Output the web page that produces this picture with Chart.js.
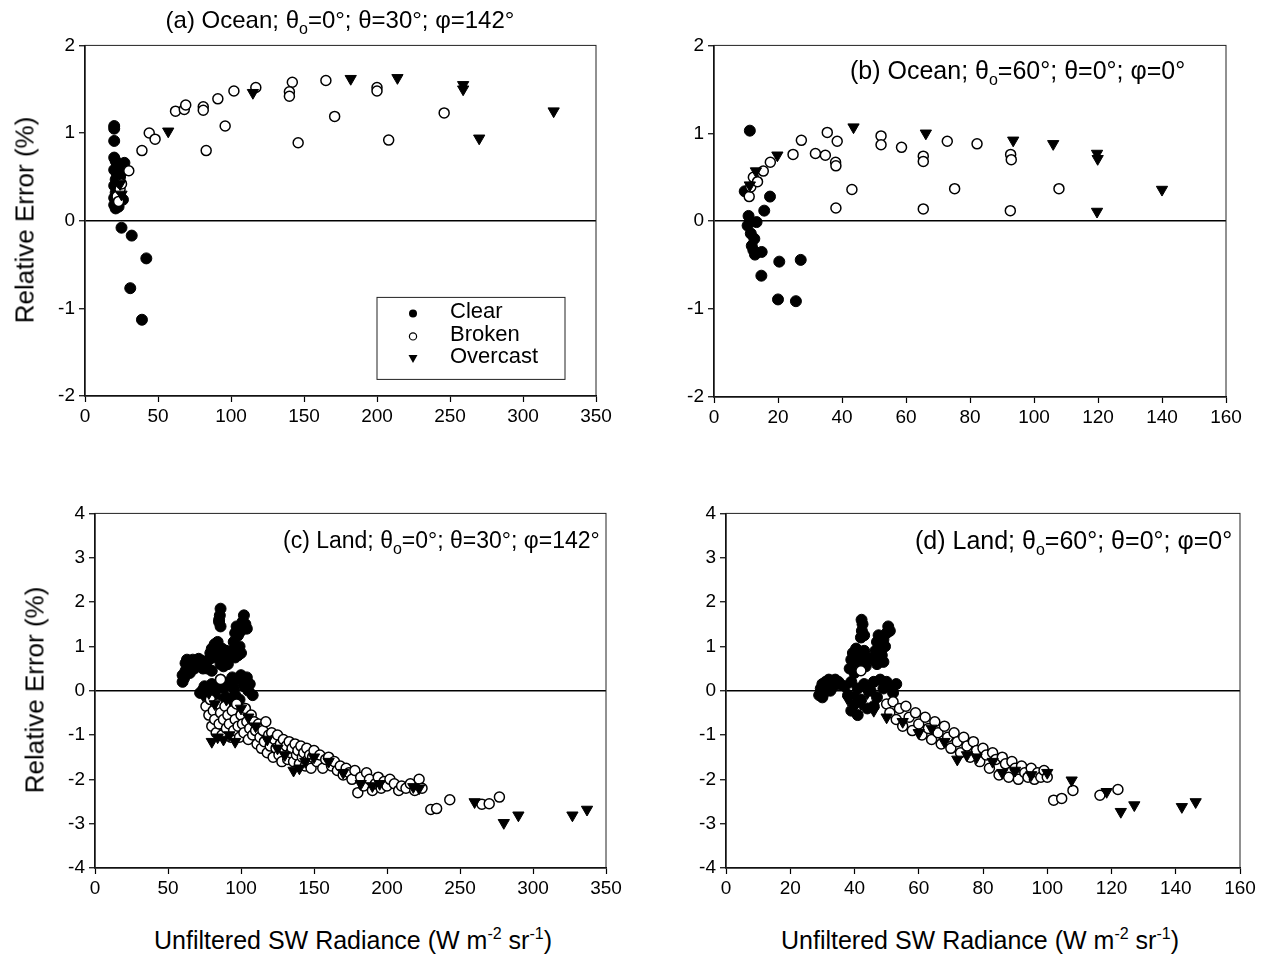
<!DOCTYPE html>
<html>
<head>
<meta charset="utf-8">
<script src="https://cdn.jsdelivr.net/npm/chart.js@4.4.1/dist/chart.umd.min.js"></script>
<style>
  body { margin: 0; background: #fff; width: 1262px; height: 958px; position: relative; overflow: hidden;
         font-family: "Liberation Sans", Arial, sans-serif; color: #000; }
  canvas { position: absolute; }
  .t { position: absolute; white-space: nowrap; font-size: 24px; line-height: 28px; }
  .t sub { font-size: 16px; vertical-align: -6px; line-height: 0; }
  .t sup { font-size: 16px; vertical-align: 10px; line-height: 0; }
  .ylab { position: absolute; white-space: nowrap; font-size: 26px; transform: translate(-50%, -50%) rotate(-90deg); }
  .xlab { position: absolute; white-space: nowrap; transform: translate(-50%, -50%); }
</style>
</head>
<body>

<canvas id="pa"></canvas>
<canvas id="pb"></canvas>
<canvas id="pc"></canvas>
<canvas id="pd"></canvas>

<div class="t" style="left:90px; top:6px; width:500px; text-align:center;">(a) Ocean; &theta;<sub>o</sub>=0&deg;; &theta;=30&deg;; &phi;=142&deg;</div>
<div class="t" style="left:850px; top:56px; font-size:25px;">(b) Ocean; &theta;<sub>o</sub>=60&deg;; &theta;=0&deg;; &phi;=0&deg;</div>
<div class="t" style="left:283px; top:526px; font-size:23px;">(c) Land; &theta;<sub>o</sub>=0&deg;; &theta;=30&deg;; &phi;=142&deg;</div>
<div class="t" style="left:915px; top:526px; font-size:25px;">(d) Land; &theta;<sub>o</sub>=60&deg;; &theta;=0&deg;; &phi;=0&deg;</div>

<div class="ylab" style="left:25px; top:220px;">Relative Error (%)</div>
<div class="ylab" style="left:35px; top:690px;">Relative Error (%)</div>
<div class="xlab t" style="left:353px; top:940px; font-size:25px;">Unfiltered SW Radiance (W m<sup>-2</sup> sr<sup>-1</sup>)</div>
<div class="xlab t" style="left:980px; top:940px; font-size:25px;">Unfiltered SW Radiance (W m<sup>-2</sup> sr<sup>-1</sup>)</div>

<script>
// series labels
var seriesNames = ["Clear", "Broken", "Overcast"];

// ---- panel (a) ocean, theta0=0, theta=30, phi=142
var aClear = [[20,1.08],[20,1.05],[20,0.91],[20,0.72],[21,0.68],[22,0.64],[20,0.58],[23,0.6],[22,0.52],[21,0.47],
  [24,0.44],[20,0.4],[23,0.36],[21,0.32],[24,0.3],[20,0.26],[22,0.22],[26,0.24],[20,0.18],[23,0.16],[21,0.14],
  [27,0.66],[26,0.62],[25,0.55],[24,0.5],[25,-0.08],[32,-0.17],[42,-0.43],[31,-0.77],[39,-1.13]];
var aBroken = [[22,0.28],[24,0.36],[25,0.42],[23,0.22],[30,0.57],[39,0.8],[44,1.0],[48,0.93],[62,1.25],[68,1.27],
  [69,1.32],[81,1.3],[81,1.26],[83,0.8],[91,1.39],[96,1.08],[102,1.48],[117,1.52],[142,1.58],[140,1.47],[140,1.42],
  [146,0.89],[165,1.6],[171,1.19],[200,1.52],[200,1.48],[208,0.92],[246,1.23]];
var aOvercast = [[24,0.42],[25,0.3],[57,1.02],[115,1.46],[182,1.62],[214,1.63],[259,1.55],[259,1.5],[270,0.94],[321,1.25]];

// ---- panel (b) ocean, theta0=60, theta=0, phi=0
var bClear = [[11.2,1.03],[9.6,0.34],[17.5,0.28],[15.7,0.12],[10.8,0.06],[11.2,0.0],[13.3,-0.01],[11.5,-0.14],
  [12.6,-0.2],[12.3,-0.33],[14.9,-0.35],[12.8,-0.38],[20.4,-0.46],[27.1,-0.44],[14.8,-0.62],[20,-0.89],[25.6,-0.91],
  [10.5,-0.05],[11.8,-0.28]];
var bBroken = [[11,0.28],[11.5,0.39],[12.3,0.5],[13.6,0.45],[15.4,0.57],[17.6,0.67],[24.7,0.76],[27.3,0.92],
  [31.7,0.77],[34.8,0.75],[35.4,1.01],[38.5,0.91],[38,0.67],[38.1,0.63],[43.1,0.36],[38.1,0.15],[52.2,0.97],
  [52.2,0.87],[58.6,0.84],[65.4,0.74],[65.4,0.68],[72.9,0.91],[82.2,0.88],[92.7,0.76],[92.9,0.7],[75.2,0.37],
  [107.8,0.37],[65.4,0.14],[92.6,0.12]];
var bOvercast = [[11.2,0.41],[13.1,0.57],[19.8,0.75],[43.6,1.07],[66.2,1.0],[93.5,0.92],[106,0.88],[119.7,0.77],
  [119.9,0.71],[140,0.36],[119.7,0.11]];

// ---- panel (c) land, theta0=0, theta=30, phi=142
var cClear = [[60,0.2],[60,0.35],[61,0.28],[62,0.45],[62,0.62],[63,0.7],[64,0.55],[65,0.4],[66,0.62],[67,0.7],
  [68,0.5],[69,0.65],[70,0.6],[71,0.72],[72,0.58],[73,0.68],[74,0.5],
  [77,0.5],[78,0.7],[79,0.85],[80,0.95],[81,0.75],[82,1.05],[83,0.9],[84,1.1],[85,0.8],[86,0.6],[87,0.95],
  [88,0.55],[89,0.75],[90,0.9],[91,0.6],[80,0.45],
  [85,1.55],[85.5,1.7],[86,1.85],[86,1.45],[85,1.6],
  [94,0.9],[95,1.1],[96,1.3],[97,1.45],[98,1.25],[98,0.8],[99,1.0],[100,1.35],[101,1.55],[102,1.7],[103,1.5],
  [104,1.4],[100,0.85],[96,0.75],
  [72,-0.05],[74,0.02],[75,0.1],[76,-0.1],[78,0.05],[80,0.15],[82,-0.05],[84,0.1],[86,0.25],[88,0.05],[90,-0.15],
  [92,0.2],[94,0.3],[95,0.05],[96,-0.1],[98,0.25],[100,0.35],[102,0.1],[104,0.3],[105,0.0],[106,0.15],[108,-0.1],
  [93,-0.25],[87,-0.2],[79,-0.12],[84,-0.3],[99,-0.2]];
var cBroken = [[76,-0.35],[78,-0.55],[79,-0.2],[80,-0.8],[81,-0.45],[82,-0.65],[83,-0.95],[84,-0.3],[85,-0.75],
  [86,-0.5],[87,-1.0],[88,-0.65],[89,-0.35],[90,-0.85],[91,-0.55],[92,-0.75],[93,-1.05],[94,-0.45],[95,-0.9],
  [96,-0.65],[97,-0.3],[98,-0.8],[99,-1.05],[100,-0.55],[101,-0.75],[102,-0.95],[103,-0.4],[104,-0.7],[105,-1.1],
  [106,-0.85],[107,-0.55],[108,-1.0],[109,-0.7],[110,-0.9],[86,0.25],
  [111,-1.2],[112,-0.75],[113,-1.05],[114,-1.3],[115,-0.9],[116,-1.15],[117,-0.7],[118,-1.4],[119,-1.0],[120,-1.25],
  [121,-0.95],[122,-1.5],[123,-1.1],[124,-1.3],[125,-1.0],[126,-1.45],[127,-1.2],[128,-1.6],[129,-1.1],[130,-1.35],
  [131,-1.25],[132,-1.55],[133,-1.15],[134,-1.4],[135,-1.3],[136,-1.6],[137,-1.2],[138,-1.45],[139,-1.35],[140,-1.65],
  [141,-1.25],[142,-1.5],[143,-1.4],[144,-1.7],[145,-1.3],[146,-1.55],[147,-1.45],[148,-1.75],[149,-1.5],[150,-1.35],
  [152,-1.6],[154,-1.45],[156,-1.75],[158,-1.55],[160,-1.5],[162,-1.7],[164,-1.6],[166,-1.8],[168,-1.7],[170,-1.9],
  [172,-1.75],[174,-1.85],[176,-2.0],[178,-1.8],[180,-2.3],[182,-1.95],[184,-2.15],[186,-1.85],[188,-2.0],[190,-2.25],
  [192,-2.1],[194,-1.95],[196,-2.2],[198,-2.05],[200,-2.15],[202,-2.0],[205,-2.1],[208,-2.25],[210,-2.15],[213,-2.2],
  [216,-2.1],[219,-2.25],[222,-2.0],[224,-2.2],[230,-2.68],[234,-2.66],[243,-2.46],[265,-2.56],[270,-2.55],[277,-2.4]];
var cOvercast = [[74,-0.1],[76,0.0],[78,-0.05],[80,-1.15],[84,-1.05],[88,-1.1],[92,-1.0],[96,-1.15],[82,-0.3],
  [90,-0.2],[100,-0.4],[105,-0.6],[110,-0.8],[118,-1.1],[125,-1.3],[130,-1.45],[136,-1.8],[140,-1.75],[144,-1.6],
  [150,-1.5],[160,-1.6],[170,-1.85],[182,-2.1],[190,-2.15],[195,-2.1],[218,-2.17],[222,-2.2],[260,-2.51],
  [280,-2.98],[290,-2.81],[327,-2.81],[337,-2.68]];

// ---- panel (d) land, theta0=60, theta=0, phi=0
var dClear = [[29,-0.1],[29.5,0.05],[30,0.15],[30.5,-0.05],[31,0.2],[31.5,0.1],[32,0.25],[32.5,0.0],[33,0.2],
  [33.5,0.1],[34,0.25],[35,0.2],[35.5,0.15],[30,-0.15],
  [38.5,0.5],[39,0.7],[39.5,0.85],[40,0.6],[40.5,0.95],[41,0.75],[41.5,0.5],[42,0.8],[42.5,0.65],[43,0.9],
  [43.5,0.55],[44,0.75],[40,0.4],
  [42,1.2],[42.3,1.35],[42.5,1.5],[42.2,1.6],[43,1.25],
  [46,0.7],[46.5,0.9],[47,1.1],[47.5,1.25],[48,0.95],[48.5,0.8],[49,1.15],[49.5,1.0],[50,1.3],[50.5,1.45],
  [51,1.35],[47,0.6],[49,0.65],
  [37,0.1],[38,-0.1],[39,0.2],[40,-0.3],[41,0.05],[42,-0.2],[43,0.15],[44,-0.4],[45,0.0],[46,0.2],[47,-0.15],
  [48,0.25],[49,0.05],[50,0.2],[51,0.1],[52,-0.05],[53,0.15],[41,-0.55],[46,-0.35],[39,-0.45]];
var dBroken = [[42,0.45],[50,-0.3],[51,-0.5],[52,-0.25],[53,-0.65],[54,-0.4],[55,-0.8],[56,-0.35],[57,-0.6],
  [58,-0.9],[59,-0.5],[60,-0.75],[61,-1.0],[62,-0.6],[63,-0.85],[64,-1.1],[65,-0.7],[66,-0.95],[67,-1.2],[68,-0.8],
  [69,-1.05],[70,-1.3],[71,-0.95],[72,-1.15],[73,-1.4],[74,-1.05],[75,-1.25],[76,-1.5],[77,-1.15],[78,-1.35],
  [79,-1.6],[80,-1.3],[81,-1.45],[82,-1.75],[83,-1.4],[84,-1.55],[85,-1.9],[86,-1.5],[87,-1.65],[88,-1.95],
  [89,-1.6],[90,-1.75],[91,-2.0],[92,-1.7],[93,-1.85],[94,-1.95],[95,-1.75],[96,-2.0],[97,-1.85],[98,-1.95],
  [99,-1.8],[100,-1.95],[102,-2.47],[104.5,-2.43],[108,-2.25],[116.4,-2.36],[122,-2.23]];
var dOvercast = [[38,-0.2],[40,-0.1],[42,-0.3],[44,-0.05],[46,-0.45],[50,-0.6],[55,-0.7],[60,-0.95],[64,-0.85],
  [68,-1.15],[72,-1.55],[75,-1.45],[78,-1.5],[83,-1.6],[86,-1.85],[90,-1.8],[95,-1.9],[100,-1.85],[107.6,-2.02],
  [118.5,-2.28],[122.9,-2.73],[127.1,-2.58],[141.9,-2.62],[146.2,-2.51]];

var FONT = "'Liberation Sans', Arial, sans-serif";
Chart.defaults.font.family = FONT;
Chart.defaults.color = "#000";

function pts(arr) {
  return arr.map(function (p) { return { x: p[0], y: p[1] }; });
}

// box round plot area
var boxPlugin = {
  id: "box",
  afterDraw: function (chart) {
    var a = chart.chartArea, ctx = chart.ctx;
    ctx.save();
    ctx.strokeStyle = "#222";
    ctx.lineWidth = 1;
    ctx.strokeRect(a.left, a.top, a.right - a.left, a.bottom - a.top);
    ctx.restore();
  }
};

// legend box of panel (a)
var legendPlugin = {
  id: "boxLegend",
  afterDraw: function (chart) {
    if (!chart.options.plugins.boxLegend || !chart.options.plugins.boxLegend.show) return;
    var a = chart.chartArea, ctx = chart.ctx;
    var x0 = a.left + 292, y0 = a.top + 252;
    ctx.save();
    ctx.fillStyle = "#fff";
    ctx.fillRect(x0, y0, 188, 82);
    ctx.strokeStyle = "#222";
    ctx.lineWidth = 1;
    ctx.strokeRect(x0, y0, 188, 82);
    var sx = x0 + 36, rows = [y0 + 16, y0 + 39, y0 + 61];
    // clear
    ctx.fillStyle = "#000";
    ctx.beginPath(); ctx.arc(sx, rows[0], 4, 0, Math.PI * 2); ctx.fill();
    // broken
    ctx.fillStyle = "#fff"; ctx.strokeStyle = "#000"; ctx.lineWidth = 1.2;
    ctx.beginPath(); ctx.arc(sx, rows[1], 3.6, 0, Math.PI * 2); ctx.fill(); ctx.stroke();
    // overcast
    ctx.fillStyle = "#000";
    ctx.beginPath(); ctx.moveTo(sx - 4.5, rows[2] - 3.5); ctx.lineTo(sx + 4.5, rows[2] - 3.5); ctx.lineTo(sx, rows[2] + 4.5);
    ctx.closePath(); ctx.fill();
    ctx.font = "22px " + FONT;
    ctx.textBaseline = "middle";
    for (var i = 0; i < seriesNames.length; i++) {
      ctx.fillText(seriesNames[i], x0 + 73, rows[i] - 1);
    }
    ctx.restore();
  }
};

function makePanel(id, L, T, R, B, xMax, xStep, yMin, yMax, clear, broken, overcast, withLegend) {
  var cv = document.getElementById(id);
  var yw = 60, xh = 40, padTop = 14, padRight = 24;
  cv.width = R - L + yw + padRight;
  cv.height = B - T + padTop + xh;
  cv.style.left = (L - yw) + "px";
  cv.style.top = (T - padTop) + "px";

  new Chart(cv, {
    type: "scatter",
    data: {
      datasets: [
        { label: seriesNames[0], data: pts(clear), order: 3, pointStyle: "circle", pointRadius: 5.5,
          backgroundColor: "#000", borderColor: "#000", borderWidth: 1 },
        { label: seriesNames[1], data: pts(broken), order: 2, pointStyle: "circle", pointRadius: 5,
          backgroundColor: "#fff", borderColor: "#000", borderWidth: 1.5 },
        { label: seriesNames[2], data: pts(overcast), order: 1, pointStyle: "triangle", rotation: 180,
          pointRadius: 6.5, backgroundColor: "#000", borderColor: "#000", borderWidth: 1 }
      ]
    },
    options: {
      responsive: false,
      animation: false,
      events: [],
      layout: { padding: { top: padTop, right: padRight, left: 0, bottom: 0 } },
      plugins: { legend: { display: false }, tooltip: { enabled: false }, boxLegend: { show: withLegend } },
      scales: {
        x: {
          type: "linear", min: 0, max: xMax,
          ticks: { stepSize: xStep, color: "#000", font: { size: 19 }, padding: 3, maxRotation: 0 },
          grid: { drawOnChartArea: false, tickLength: 6, tickColor: "#000", tickWidth: 1.2 },
          border: { color: "#000", width: 1.5 },
          afterFit: function (s) { s.height = xh; }
        },
        y: {
          type: "linear", min: yMin, max: yMax,
          ticks: { stepSize: 1, color: "#000", font: { size: 19 }, padding: 4 },
          grid: {
            color: function (c) { return c.tick && c.tick.value === 0 ? "#000" : "rgba(0,0,0,0)"; },
            lineWidth: 1.5, tickLength: 6, tickColor: "#000", tickWidth: 1.2
          },
          border: { color: "#000", width: 1.5 },
          afterFit: function (s) { s.width = yw; }
        }
      }
    },
    plugins: [boxPlugin, legendPlugin]
  });
}

makePanel("pa", 85, 44, 596, 396, 350, 50, -2, 2, aClear, aBroken, aOvercast, true);
makePanel("pb", 714, 44, 1226, 397, 160, 20, -2, 2, bClear, bBroken, bOvercast, false);
makePanel("pc", 95, 512, 606, 868, 350, 50, -4, 4, cClear, cBroken, cOvercast, false);
makePanel("pd", 726, 512, 1240, 868, 160, 20, -4, 4, dClear, dBroken, dOvercast, false);
</script>
</body>
</html>
